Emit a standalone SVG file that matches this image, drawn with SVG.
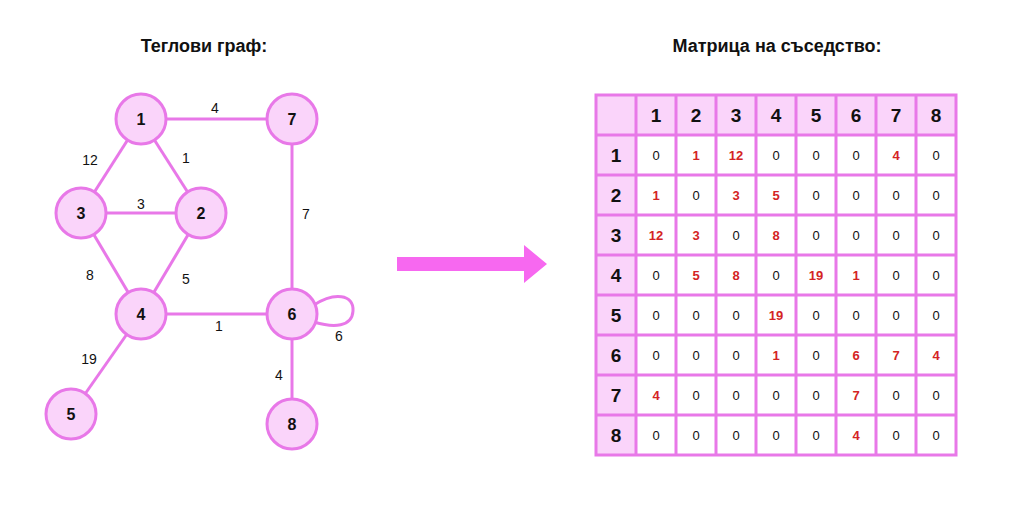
<svg xmlns="http://www.w3.org/2000/svg" width="1017" height="508" viewBox="0 0 1017 508">
<style>
text{font-family:"Liberation Sans",Arial,sans-serif;}
.title{font-size:18px;font-weight:bold;fill:#111;text-anchor:middle;}
.node circle{fill:#fad4fa;stroke:#e878e8;stroke-width:3;}
.node text{font-size:16px;font-weight:bold;fill:#111;text-anchor:middle;dominant-baseline:central;}
.edge{stroke:#e878e8;stroke-width:3;fill:none;}
.elabel{font-size:14px;fill:#111;text-anchor:middle;dominant-baseline:central;}
.hcell{fill:#fad4fa;}
.grid{stroke:#e878e8;stroke-width:3;fill:none;}
.hd{font-size:19px;font-weight:bold;fill:#111;text-anchor:middle;dominant-baseline:central;}
.v{font-size:13px;fill:#111;text-anchor:middle;dominant-baseline:central;}
.r{font-size:13px;font-weight:bold;fill:#d42424;text-anchor:middle;dominant-baseline:central;}
</style>
<rect width="1017" height="508" fill="#fff"/>
<text class="title" x="204" y="52">Теглови граф:</text>
<text class="title" x="777" y="52">Матрица на съседство:</text>
<g id="connectors">
<line class="edge" x1="141" y1="119" x2="292" y2="119"/>
<line class="edge" x1="141" y1="119" x2="81" y2="213"/>
<line class="edge" x1="141" y1="119" x2="201" y2="213"/>
<line class="edge" x1="81" y1="213" x2="201" y2="213"/>
<line class="edge" x1="292" y1="119" x2="292" y2="314"/>
<line class="edge" x1="81" y1="213" x2="141" y2="314"/>
<line class="edge" x1="201" y1="213" x2="141" y2="314"/>
<line class="edge" x1="141" y1="314" x2="292" y2="314"/>
<line class="edge" x1="141" y1="314" x2="71" y2="414"/>
<line class="edge" x1="292" y1="314" x2="292" y2="424"/>
<path class="edge" d="M 314 305 C 334 292 354 294 353 311 C 352 327 334 328 314 322"/>
<text class="elabel" x="215" y="108">4</text>
<text class="elabel" x="90" y="160">12</text>
<text class="elabel" x="186" y="158">1</text>
<text class="elabel" x="141" y="204">3</text>
<text class="elabel" x="306" y="214">7</text>
<text class="elabel" x="90" y="275">8</text>
<text class="elabel" x="186" y="279">5</text>
<text class="elabel" x="219" y="326">1</text>
<text class="elabel" x="339" y="336">6</text>
<text class="elabel" x="89" y="359">19</text>
<text class="elabel" x="279" y="375">4</text>
</g>
<g id="n1" class="node"><circle cx="141" cy="119" r="25"/><text x="141" y="119">1</text></g>
<g id="n7" class="node"><circle cx="292" cy="119" r="25"/><text x="292" y="119">7</text></g>
<g id="n3" class="node"><circle cx="81" cy="213" r="25"/><text x="81" y="213">3</text></g>
<g id="n2" class="node"><circle cx="201" cy="213" r="25"/><text x="201" y="213">2</text></g>
<g id="n4" class="node"><circle cx="141" cy="314" r="25"/><text x="141" y="314">4</text></g>
<g id="n6" class="node"><circle cx="292" cy="314" r="25"/><text x="292" y="314">6</text></g>
<g id="n5" class="node"><circle cx="71" cy="414" r="25"/><text x="71" y="414">5</text></g>
<g id="n8" class="node"><circle cx="292" cy="424" r="25"/><text x="292" y="424">8</text></g>
<g id="arrow">
<polygon points="397,257 524,257 524,245 547,264 524,283 524,271 397,271" fill="#f768f0"/>
</g>
<g id="matrix">
<rect class="hcell" x="596" y="95" width="360" height="40"/>
<rect class="hcell" x="596" y="95" width="40" height="360"/>
<rect class="grid" x="596" y="95" width="360" height="360"/>
<path class="grid" d="M636 95V455M676 95V455M716 95V455M756 95V455M796 95V455M836 95V455M876 95V455M916 95V455M596 135H956M596 175H956M596 215H956M596 255H956M596 295H956M596 335H956M596 375H956M596 415H956"/>
<g>
<text class="hd" x="656" y="115">1</text><text class="hd" x="696" y="115">2</text><text class="hd" x="736" y="115">3</text><text class="hd" x="776" y="115">4</text><text class="hd" x="816" y="115">5</text><text class="hd" x="856" y="115">6</text><text class="hd" x="896" y="115">7</text><text class="hd" x="936" y="115">8</text>
<text class="hd" x="616" y="155">1</text><text class="hd" x="616" y="195">2</text><text class="hd" x="616" y="235">3</text><text class="hd" x="616" y="275">4</text><text class="hd" x="616" y="315">5</text><text class="hd" x="616" y="355">6</text><text class="hd" x="616" y="395">7</text><text class="hd" x="616" y="435">8</text>
</g>
<g>
<text class="v" x="656" y="155">0</text><text class="r" x="696" y="155">1</text><text class="r" x="736" y="155">12</text><text class="v" x="776" y="155">0</text><text class="v" x="816" y="155">0</text><text class="v" x="856" y="155">0</text><text class="r" x="896" y="155">4</text><text class="v" x="936" y="155">0</text>
<text class="r" x="656" y="195">1</text><text class="v" x="696" y="195">0</text><text class="r" x="736" y="195">3</text><text class="r" x="776" y="195">5</text><text class="v" x="816" y="195">0</text><text class="v" x="856" y="195">0</text><text class="v" x="896" y="195">0</text><text class="v" x="936" y="195">0</text>
<text class="r" x="656" y="235">12</text><text class="r" x="696" y="235">3</text><text class="v" x="736" y="235">0</text><text class="r" x="776" y="235">8</text><text class="v" x="816" y="235">0</text><text class="v" x="856" y="235">0</text><text class="v" x="896" y="235">0</text><text class="v" x="936" y="235">0</text>
<text class="v" x="656" y="275">0</text><text class="r" x="696" y="275">5</text><text class="r" x="736" y="275">8</text><text class="v" x="776" y="275">0</text><text class="r" x="816" y="275">19</text><text class="r" x="856" y="275">1</text><text class="v" x="896" y="275">0</text><text class="v" x="936" y="275">0</text>
<text class="v" x="656" y="315">0</text><text class="v" x="696" y="315">0</text><text class="v" x="736" y="315">0</text><text class="r" x="776" y="315">19</text><text class="v" x="816" y="315">0</text><text class="v" x="856" y="315">0</text><text class="v" x="896" y="315">0</text><text class="v" x="936" y="315">0</text>
<text class="v" x="656" y="355">0</text><text class="v" x="696" y="355">0</text><text class="v" x="736" y="355">0</text><text class="r" x="776" y="355">1</text><text class="v" x="816" y="355">0</text><text class="r" x="856" y="355">6</text><text class="r" x="896" y="355">7</text><text class="r" x="936" y="355">4</text>
<text class="r" x="656" y="395">4</text><text class="v" x="696" y="395">0</text><text class="v" x="736" y="395">0</text><text class="v" x="776" y="395">0</text><text class="v" x="816" y="395">0</text><text class="r" x="856" y="395">7</text><text class="v" x="896" y="395">0</text><text class="v" x="936" y="395">0</text>
<text class="v" x="656" y="435">0</text><text class="v" x="696" y="435">0</text><text class="v" x="736" y="435">0</text><text class="v" x="776" y="435">0</text><text class="v" x="816" y="435">0</text><text class="r" x="856" y="435">4</text><text class="v" x="896" y="435">0</text><text class="v" x="936" y="435">0</text>
</g>
</g>
</svg>
